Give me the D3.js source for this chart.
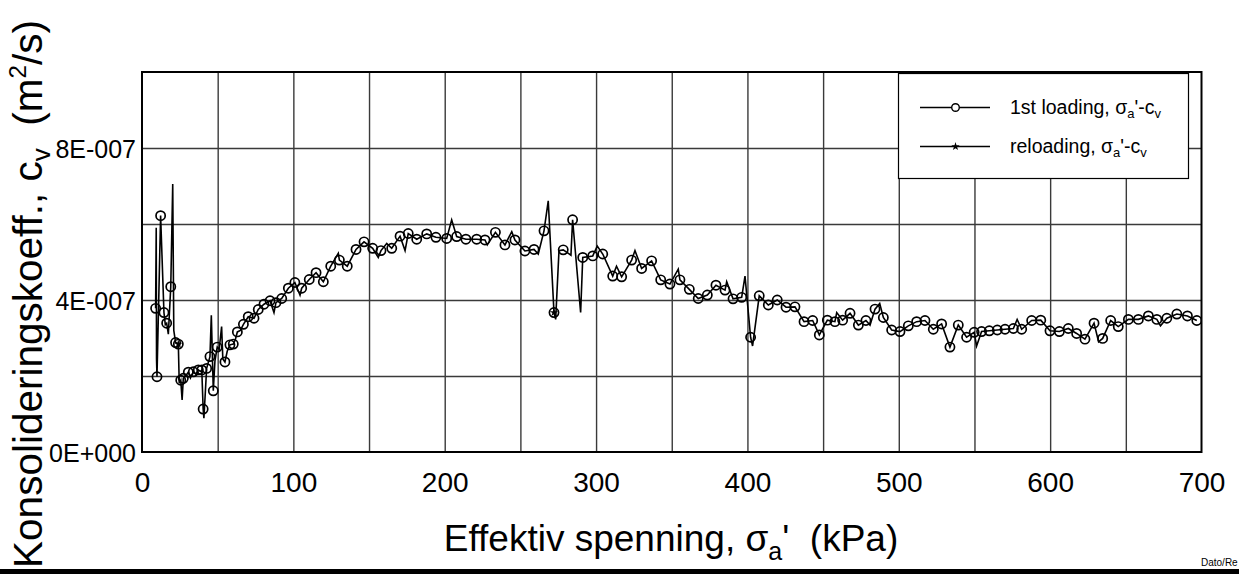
<!DOCTYPE html>
<html>
<head>
<meta charset="utf-8">
<script src="https://cdn.jsdelivr.net/npm/d3@7/dist/d3.min.js"></script>
<style>
  body { margin: 0; background: #fff; }
  svg { display: block; }
  text { font-family: "Liberation Sans", Arial, sans-serif; fill: #000; }
</style>
</head>
<body>
<svg id="chart" width="1239" height="574"></svg>
<script>
// Effective stress (kPa) and coefficient of consolidation (units of 1E-007 m²/s)
// 1st loading: points carrying a circle marker
const loadStress = [9.0,9.9,12.3,14.5,16.3,19.0,22.2,24.0,25.6,27.3,
  30.6,33.9,37.2,39.5,40.4,42.7,44.9,47.1,49.7,54.8,
  58.1,60.3,63.0,67.0,70.2,74.0,76.8,80.6,84.6,88.5,
  92.3,96.7,101.0,105.5,110.5,115.0,119.8,124.7,130.4,135.6,
  141.4,146.7,152.4,157.9,165.0,170.5,175.9,181.5,188.1,194.2,
  201.3,207.9,214.0,221.1,226.6,233.5,239.8,246.4,253.0,259.0,
  265.6,272.2,278.3,284.5,291.2,297.8,304.4,311.0,316.9,323.5,
  330.1,336.7,342.7,348.8,355.4,361.6,367.5,373.5,379.2,385.2,
  390.5,396.2,402.1,407.8,413.8,419.7,425.5,431.4,437.4,443.1,
  447.5,452.8,457.8,462.9,467.8,473.3,478.3,484.3,489.8,495.3,
  500.8,506.3,511.8,517.3,522.8,528.3,533.8,539.3,544.8,549.8,
  554.7,559.8,565.1,570.2,575.7,581.2,587.8,593.8,599.9,606.1,
  612.0,617.5,623.0,629.0,634.7,640.0,645.0,651.7,658.3,664.9,
  670.5,677.1,683.7,690.7,696.9];
const loadCv = [3.78,1.98,6.22,3.67,3.39,4.35,2.88,2.84,1.89,1.94,
  2.10,2.11,2.16,2.16,1.13,2.20,2.51,1.61,2.76,2.37,
  2.82,2.84,3.16,3.36,3.56,3.52,3.75,3.89,3.98,3.93,
  4.04,4.31,4.46,4.31,4.54,4.72,4.48,4.89,5.05,4.89,
  5.33,5.53,5.36,5.30,5.36,5.68,5.75,5.60,5.74,5.65,
  5.62,5.67,5.60,5.60,5.58,5.78,5.45,5.58,5.29,5.33,
  5.82,3.67,5.32,6.11,5.12,5.16,5.21,4.63,4.61,5.05,
  4.83,5.03,4.53,4.42,4.53,4.28,4.04,4.13,4.39,4.26,
  4.03,4.07,3.02,4.11,3.87,4.00,3.81,3.82,3.43,3.46,
  3.08,3.47,3.43,3.47,3.65,3.34,3.46,3.76,3.54,3.21,
  3.17,3.32,3.43,3.46,3.23,3.37,2.76,3.34,3.02,3.15,
  3.17,3.19,3.21,3.23,3.25,3.23,3.46,3.47,3.19,3.17,
  3.25,3.12,2.97,3.39,2.99,3.46,3.30,3.49,3.49,3.58,
  3.49,3.52,3.63,3.58,3.46];

// 1st loading: intermediate readings on the trace without a marker
const traceStress = [9.4,9.6,15.4,17.4,20.3,21.0,24.6,26.5,28.8,32.0,
  35.5,38.6,40.9,45.8,48.2,51.0,52.6,53.4,56.3,61.6,
  65.0,87.2,104.4,129.7,156.1,161.7,173.8,204.6,228.1,244.3,
  261.8,268.4,273.3,275.5,283.4,289.8,300.8,313.5,325.7,354.3,
  386.3,398.4,403.4,459.0,481.0,487.4,551.4,578.2,632.0,672.9];
const traceCv = [5.90,2.45,3.35,3.10,7.05,3.20,1.81,1.37,2.00,1.95,
  2.05,2.12,0.89,3.60,2.40,2.70,3.30,2.45,2.65,2.95,
  3.20,3.67,4.13,5.23,5.12,5.49,5.30,6.11,5.45,5.80,
  5.21,6.61,3.49,5.30,5.18,3.67,5.42,4.89,5.30,4.81,
  4.48,4.63,2.79,3.67,3.34,3.91,2.79,3.49,2.90,3.32];

// Reloading readings
const reloadStress = [24.0, 272.2];
const reloadCv = [2.84, 3.67];

// Axis ticks
const stressTicks = [0, 100, 200, 300, 400, 500, 600, 700];
const stressGrid = [50, 100, 150, 200, 250, 300, 350, 400, 450, 500, 550, 600, 650];
const cvTicks = [0, 4, 8];
const cvTickLabels = ["0E+000", "4E-007", "8E-007"];
const cvGrid = [2, 4, 6, 8];

const legendLabels = ["1st loading, ", "reloading, "];

const svg = d3.select("#chart");
const plot = { left: 142, right: 1201.5, top: 72, bottom: 452 };

const x = d3.scaleLinear().domain([0, 700]).range([plot.left, plot.right]);
const y = d3.scaleLinear().domain([0, 10]).range([plot.bottom, plot.top]);

// Grid lines
svg.append("g")
  .attr("transform", `translate(0,${plot.bottom})`)
  .call(d3.axisBottom(x).tickValues(stressGrid).tickSize(-(plot.bottom - plot.top)).tickFormat(""))
  .call(g => g.select(".domain").remove())
  .call(g => g.selectAll("line").attr("stroke", "#3a3a3a").attr("stroke-width", 1.4));

svg.append("g")
  .attr("transform", `translate(${plot.left},0)`)
  .call(d3.axisLeft(y).tickValues(cvGrid).tickSize(-(plot.right - plot.left)).tickFormat(""))
  .call(g => g.select(".domain").remove())
  .call(g => g.selectAll("line").attr("stroke", "#3a3a3a").attr("stroke-width", 1.4));

// Tick labels
svg.append("g")
  .attr("transform", `translate(0,${plot.bottom})`)
  .call(d3.axisBottom(x).tickValues(stressTicks).tickSize(0).tickPadding(0))
  .call(g => g.select(".domain").remove())
  .call(g => g.selectAll("text")
    .attr("y", 40).attr("dy", null)
    .style("font-family", '"Liberation Sans", Arial, sans-serif')
    .style("font-size", "28px").attr("fill", "#000"));

svg.append("g")
  .attr("transform", `translate(${plot.left},0)`)
  .call(d3.axisLeft(y).tickValues(cvTicks).tickSize(0).tickPadding(0)
    .tickFormat((d, i) => cvTickLabels[i]))
  .call(g => g.select(".domain").remove())
  .call(g => g.selectAll("text")
    .attr("x", -6).attr("dy", "0.36em")
    .style("font-family", '"Liberation Sans", Arial, sans-serif')
    .style("font-size", "25px").attr("fill", "#000"));

// Data
svg.append("defs").append("clipPath").attr("id", "plotClip")
  .append("rect")
  .attr("x", plot.left).attr("y", plot.top)
  .attr("width", plot.right - plot.left).attr("height", plot.bottom - plot.top);

const markers = loadStress.map((s, i) => ({ s, c: loadCv[i] }));
const trace = markers.concat(traceStress.map((s, i) => ({ s, c: traceCv[i] })))
  .sort((a, b) => a.s - b.s);

const data = svg.append("g").attr("clip-path", "url(#plotClip)");
const line = d3.line().x(d => x(d.s)).y(d => y(d.c));

data.append("path")
  .datum(trace)
  .attr("d", line)
  .attr("fill", "none")
  .attr("stroke", "#000")
  .attr("stroke-width", 1.6)
  .attr("stroke-linejoin", "miter");

data.selectAll("circle.load")
  .data(markers)
  .join("circle")
  .attr("class", "load")
  .attr("cx", d => x(d.s)).attr("cy", d => y(d.c))
  .attr("r", 4.6)
  .attr("fill", "none")
  .attr("stroke", "#000")
  .attr("stroke-width", 1.7);

const star = d3.symbol().type(d3.symbolStar).size(22);
data.selectAll("path.reload")
  .data(reloadStress.map((s, i) => ({ s, c: reloadCv[i] })))
  .join("path")
  .attr("class", "reload")
  .attr("transform", d => `translate(${x(d.s)},${y(d.c)})`)
  .attr("d", star)
  .attr("fill", "#000");

// Plot frame
svg.append("rect")
  .attr("x", plot.left).attr("y", plot.top)
  .attr("width", plot.right - plot.left).attr("height", plot.bottom - plot.top)
  .attr("fill", "none").attr("stroke", "#000").attr("stroke-width", 2);

// Legend
const lg = svg.append("g");
lg.append("rect")
  .attr("x", 898.5).attr("y", 73.5).attr("width", 290).attr("height", 105)
  .attr("fill", "#fff").attr("stroke", "#000").attr("stroke-width", 1.2);

[107.5, 146.5].forEach((ly, i) => {
  lg.append("line").attr("x1", 920).attr("x2", 990).attr("y1", ly).attr("y2", ly)
    .attr("stroke", "#000").attr("stroke-width", 1.5);
  if (i === 0) {
    lg.append("circle").attr("cx", 955.5).attr("cy", ly).attr("r", 3.8)
      .attr("fill", "#fff").attr("stroke", "#000").attr("stroke-width", 1.4);
  } else {
    lg.append("path").attr("transform", `translate(955.5,${ly})`).attr("d", star).attr("fill", "#000");
  }
  const t = lg.append("text").attr("x", 1010).attr("y", ly + 6).style("font-size", "19.5px");
  t.append("tspan").text(legendLabels[i] + "σ");
  t.append("tspan").attr("dy", 4).style("font-size", "13px").text("a");
  t.append("tspan").attr("dy", -4).text("'-c");
  t.append("tspan").attr("dy", 4).style("font-size", "13px").text("v");
});

// Axis titles
const xt = svg.append("text")
  .attr("x", 671).attr("y", 551)
  .attr("text-anchor", "middle")
  .style("font-size", "37px")
  .style("white-space", "pre");
xt.append("tspan").text("Effektiv spenning, σ");
xt.append("tspan").attr("dy", 9).style("font-size", "25px").text("a");
xt.append("tspan").attr("dy", -9).text("'  (kPa)");

const yt = svg.append("text")
  .attr("transform", "translate(42,294) rotate(-90)")
  .attr("text-anchor", "middle")
  .style("font-size", "40.5px")
  .style("white-space", "pre");
yt.append("tspan").text("Konsolideringskoeff., c");
yt.append("tspan").attr("dy", 8).style("font-size", "26px").text("v");
yt.append("tspan").attr("dy", -8).text("  (m");
yt.append("tspan").attr("dy", -16).style("font-size", "24px").text("2");
yt.append("tspan").attr("dy", 16).text("/s)");

// Footer
svg.append("rect").attr("x", 0).attr("y", 569).attr("width", 1239).attr("height", 5).attr("fill", "#000");
svg.append("text").attr("x", 1201).attr("y", 566).style("font-size", "10px").text("Dato/Re");
</script>
</body>
</html>
